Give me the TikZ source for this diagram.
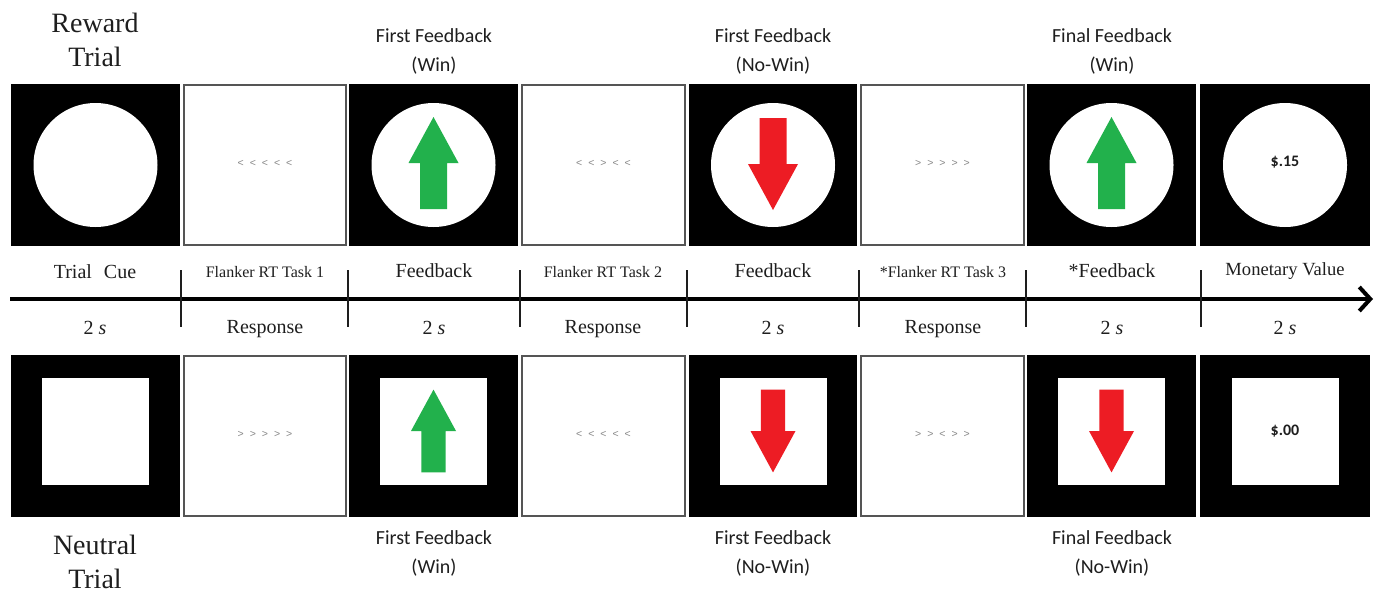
\documentclass[tikz,border=0pt]{standalone}
\usepackage{fontspec}
\setmainfont{Liberation Serif}
\newfontfamily\tnrfont{Liberation Serif}
\newfontfamily\calfont{Carlito}
\newfontfamily\flsans{Liberation Sans}
\usetikzlibrary{arrows.meta,calc}
\definecolor{fbgreen}{RGB}{34,177,76}
\definecolor{fbred}{RGB}{237,28,36}
\definecolor{flankgray}{RGB}{135,135,135}
\definecolor{bordergray}{RGB}{85,85,85}
\definecolor{ink}{RGB}{30,30,30}
\newcommand{\flk}[5]{#1\hspace{6pt}#2\hspace{6pt}#3\hspace{6pt}#4\hspace{6pt}#5}
\begin{document}
\begin{tikzpicture}[x=1pt,y=-1pt,
 blackpanel/.style={rectangle, fill=black, draw=none, minimum height=162pt, inner sep=0pt},
 whitepanel/.style={rectangle, fill=white, draw=bordergray, line width=1.5pt, minimum height=160pt, inner sep=0pt},
 disc/.style={circle, fill=white, minimum size=124pt, inner sep=0pt},
 sq/.style={rectangle, fill=white, minimum size=107pt, inner sep=0pt},
 trialtitle/.style={font=\tnrfont\fontsize{16}{19.5}\selectfont, text=ink, align=center, scale=1.75, transform shape},
 fblabel/.style={font=\calfont\fontsize{20}{29}\selectfont, text=ink, align=center},
 phase/.style={font=\tnrfont\fontsize{16}{19}\selectfont, text=ink, scale=1.25, transform shape},
 phasesmall/.style={font=\tnrfont\fontsize{16}{20}\selectfont, text=ink},
 phasemid/.style={font=\tnrfont\fontsize{16}{19}\selectfont, text=ink, scale=1.16, transform shape},
 flank/.style={font=\flsans\fontsize{10.5}{12}\selectfont, text=flankgray},
 money/.style={font=\calfont\bfseries\fontsize{16}{18}\selectfont, text=ink},
 tick/.style={line width=1.2pt, draw=ink},
 pics/uparrow/.style={code={\fill[#1] (0,-46)--(25,0)--(13.5,0)--(13.5,46)--(-13.5,46)--(-13.5,0)--(-25,0)--cycle;}},
 pics/downarrow/.style={code={\fill[#1] (0,46)--(25,0)--(13.5,0)--(13.5,-46)--(-13.5,-46)--(-13.5,0)--(-25,0)--cycle;}},
]
\useasboundingbox (0,0) rectangle (1378,592);

% ---------- top row (reward) ----------
\node[blackpanel, minimum width=169pt] (t1) at (95.5,165) {};
\node[whitepanel, minimum width=162pt] (t2) at (265,165) {};
\node[blackpanel, minimum width=169pt] (t3) at (433.5,165) {};
\node[whitepanel, minimum width=163pt] (t4) at (603.5,165) {};
\node[blackpanel, minimum width=168pt] (t5) at (773,165) {};
\node[whitepanel, minimum width=163pt] (t6) at (942.5,165) {};
\node[blackpanel, minimum width=169pt] (t7) at (1111.5,165) {};
\node[blackpanel, minimum width=170pt] (t8) at (1285,165) {};

\node[disc] (c1) at (t1.center) {};
\node[disc] (c3) at (t3.center) {};
\node[disc] (c5) at (t5.center) {};
\node[disc] (c7) at (t7.center) {};
\node[disc] (c8) at (t8.center) {};
\pic at ($(t3.center)+(0,-2)$) {uparrow=fbgreen};
\pic at ($(t5.center)+(0,-1)$) {downarrow=fbred};
\pic at ($(t7.center)+(0,-2)$) {uparrow=fbgreen};
\node[money] (m1) at ($(t8.center)+(0,-3)$) {\$.15};

\node[flank] (f2) at ($(t2.center)+(0,-2)$) {\flk{<}{<}{<}{<}{<}};
\node[flank] (f4) at ($(t4.center)+(0,-2)$) {\flk{<}{<}{>}{<}{<}};
\node[flank] (f6) at ($(t6.center)+(0,-2)$) {\flk{>}{>}{>}{>}{>}};

% ---------- bottom row (neutral) ----------
\node[blackpanel, minimum width=169pt] (b1) at (95.5,436) {};
\node[whitepanel, minimum width=162pt] (b2) at (265,436) {};
\node[blackpanel, minimum width=169pt] (b3) at (433.5,436) {};
\node[whitepanel, minimum width=163pt] (b4) at (603.5,436) {};
\node[blackpanel, minimum width=168pt] (b5) at (773,436) {};
\node[whitepanel, minimum width=163pt] (b6) at (942.5,436) {};
\node[blackpanel, minimum width=169pt] (b7) at (1111.5,436) {};
\node[blackpanel, minimum width=170pt] (b8) at (1285,436) {};

\node[sq] (s1) at ($(b1.center)+(0,-5)$) {};
\node[sq] (s3) at ($(b3.center)+(0,-5)$) {};
\node[sq] (s5) at ($(b5.center)+(0,-5)$) {};
\node[sq] (s7) at ($(b7.center)+(0,-5)$) {};
\node[sq] (s8) at ($(b8.center)+(0,-5)$) {};
\pic[scale=0.9] at (s3.center) {uparrow=fbgreen};
\pic[scale=0.9] at (s5.center) {downarrow=fbred};
\pic[scale=0.9] at (s7.center) {downarrow=fbred};
\node[money] (m2) at (s8.center) {\$.00};

\node[flank] (f2b) at ($(b2.center)+(0,-2)$) {\flk{>}{>}{>}{>}{>}};
\node[flank] (f4b) at ($(b4.center)+(0,-2)$) {\flk{<}{<}{<}{<}{<}};
\node[flank] (f6b) at ($(b6.center)+(0,-2)$) {\flk{>}{>}{<}{>}{>}};

% ---------- titles ----------
\node[trialtitle] (rt) at (95,40) {Reward\\Trial};
\node[trialtitle] (nt) at (95,562) {Neutral\\Trial};
\node[fblabel] (l3) at (434,51) {First Feedback\\(Win)};
\node[fblabel] (l5) at (773,51) {First Feedback\\(No-Win)};
\node[fblabel] (l7) at (1112,51) {Final Feedback\\(Win)};
\node[fblabel] (l3b) at (434,553) {First Feedback\\(Win)};
\node[fblabel] (l5b) at (773,553) {First Feedback\\(No-Win)};
\node[fblabel] (l7b) at (1112,553) {Final Feedback\\(No-Win)};

% ---------- timeline ----------
\coordinate (tl0) at (10,299);
\coordinate (tl1) at (1373,299);
\draw[line width=3.5pt, draw=black, -{Straight Barb[length=11pt,width=24pt,line width=4pt]}] (tl0) -- (tl1);
\foreach \x in {181,348,520,687,859,1026,1201}
  \draw[tick] (\x,270) -- (\x,327);

\node[phase] (p1) at (95,272) {Trial\hspace{0.6em}Cue};
\node[phasesmall] (p2) at (265,272) {Flanker RT Task 1};
\node[phase] (p3) at (434,271) {Feedback};
\node[phasesmall] (p4) at (603,272) {Flanker RT Task 2};
\node[phase] (p5) at (773,271) {Feedback};
\node[phasesmall] (p6) at (943,272) {*Flanker RT Task 3};
\node[phase] (p7) at (1112,271) {*Feedback};
\node[phasemid] (p8) at (1285,271) {Monetary Value};

\node[phase] (d1) at (95,328) {2 \textit{s}};
\node[phase] (r2) at (265,329) {Response};
\node[phase] (d3) at (434,328) {2 \textit{s}};
\node[phase] (r4) at (603,329) {Response};
\node[phase] (d5) at (773,328) {2 \textit{s}};
\node[phase] (r6) at (943,329) {Response};
\node[phase] (d7) at (1112,328) {2 \textit{s}};
\node[phase] (d8) at (1285,328) {2 \textit{s}};
\end{tikzpicture}
\end{document}
